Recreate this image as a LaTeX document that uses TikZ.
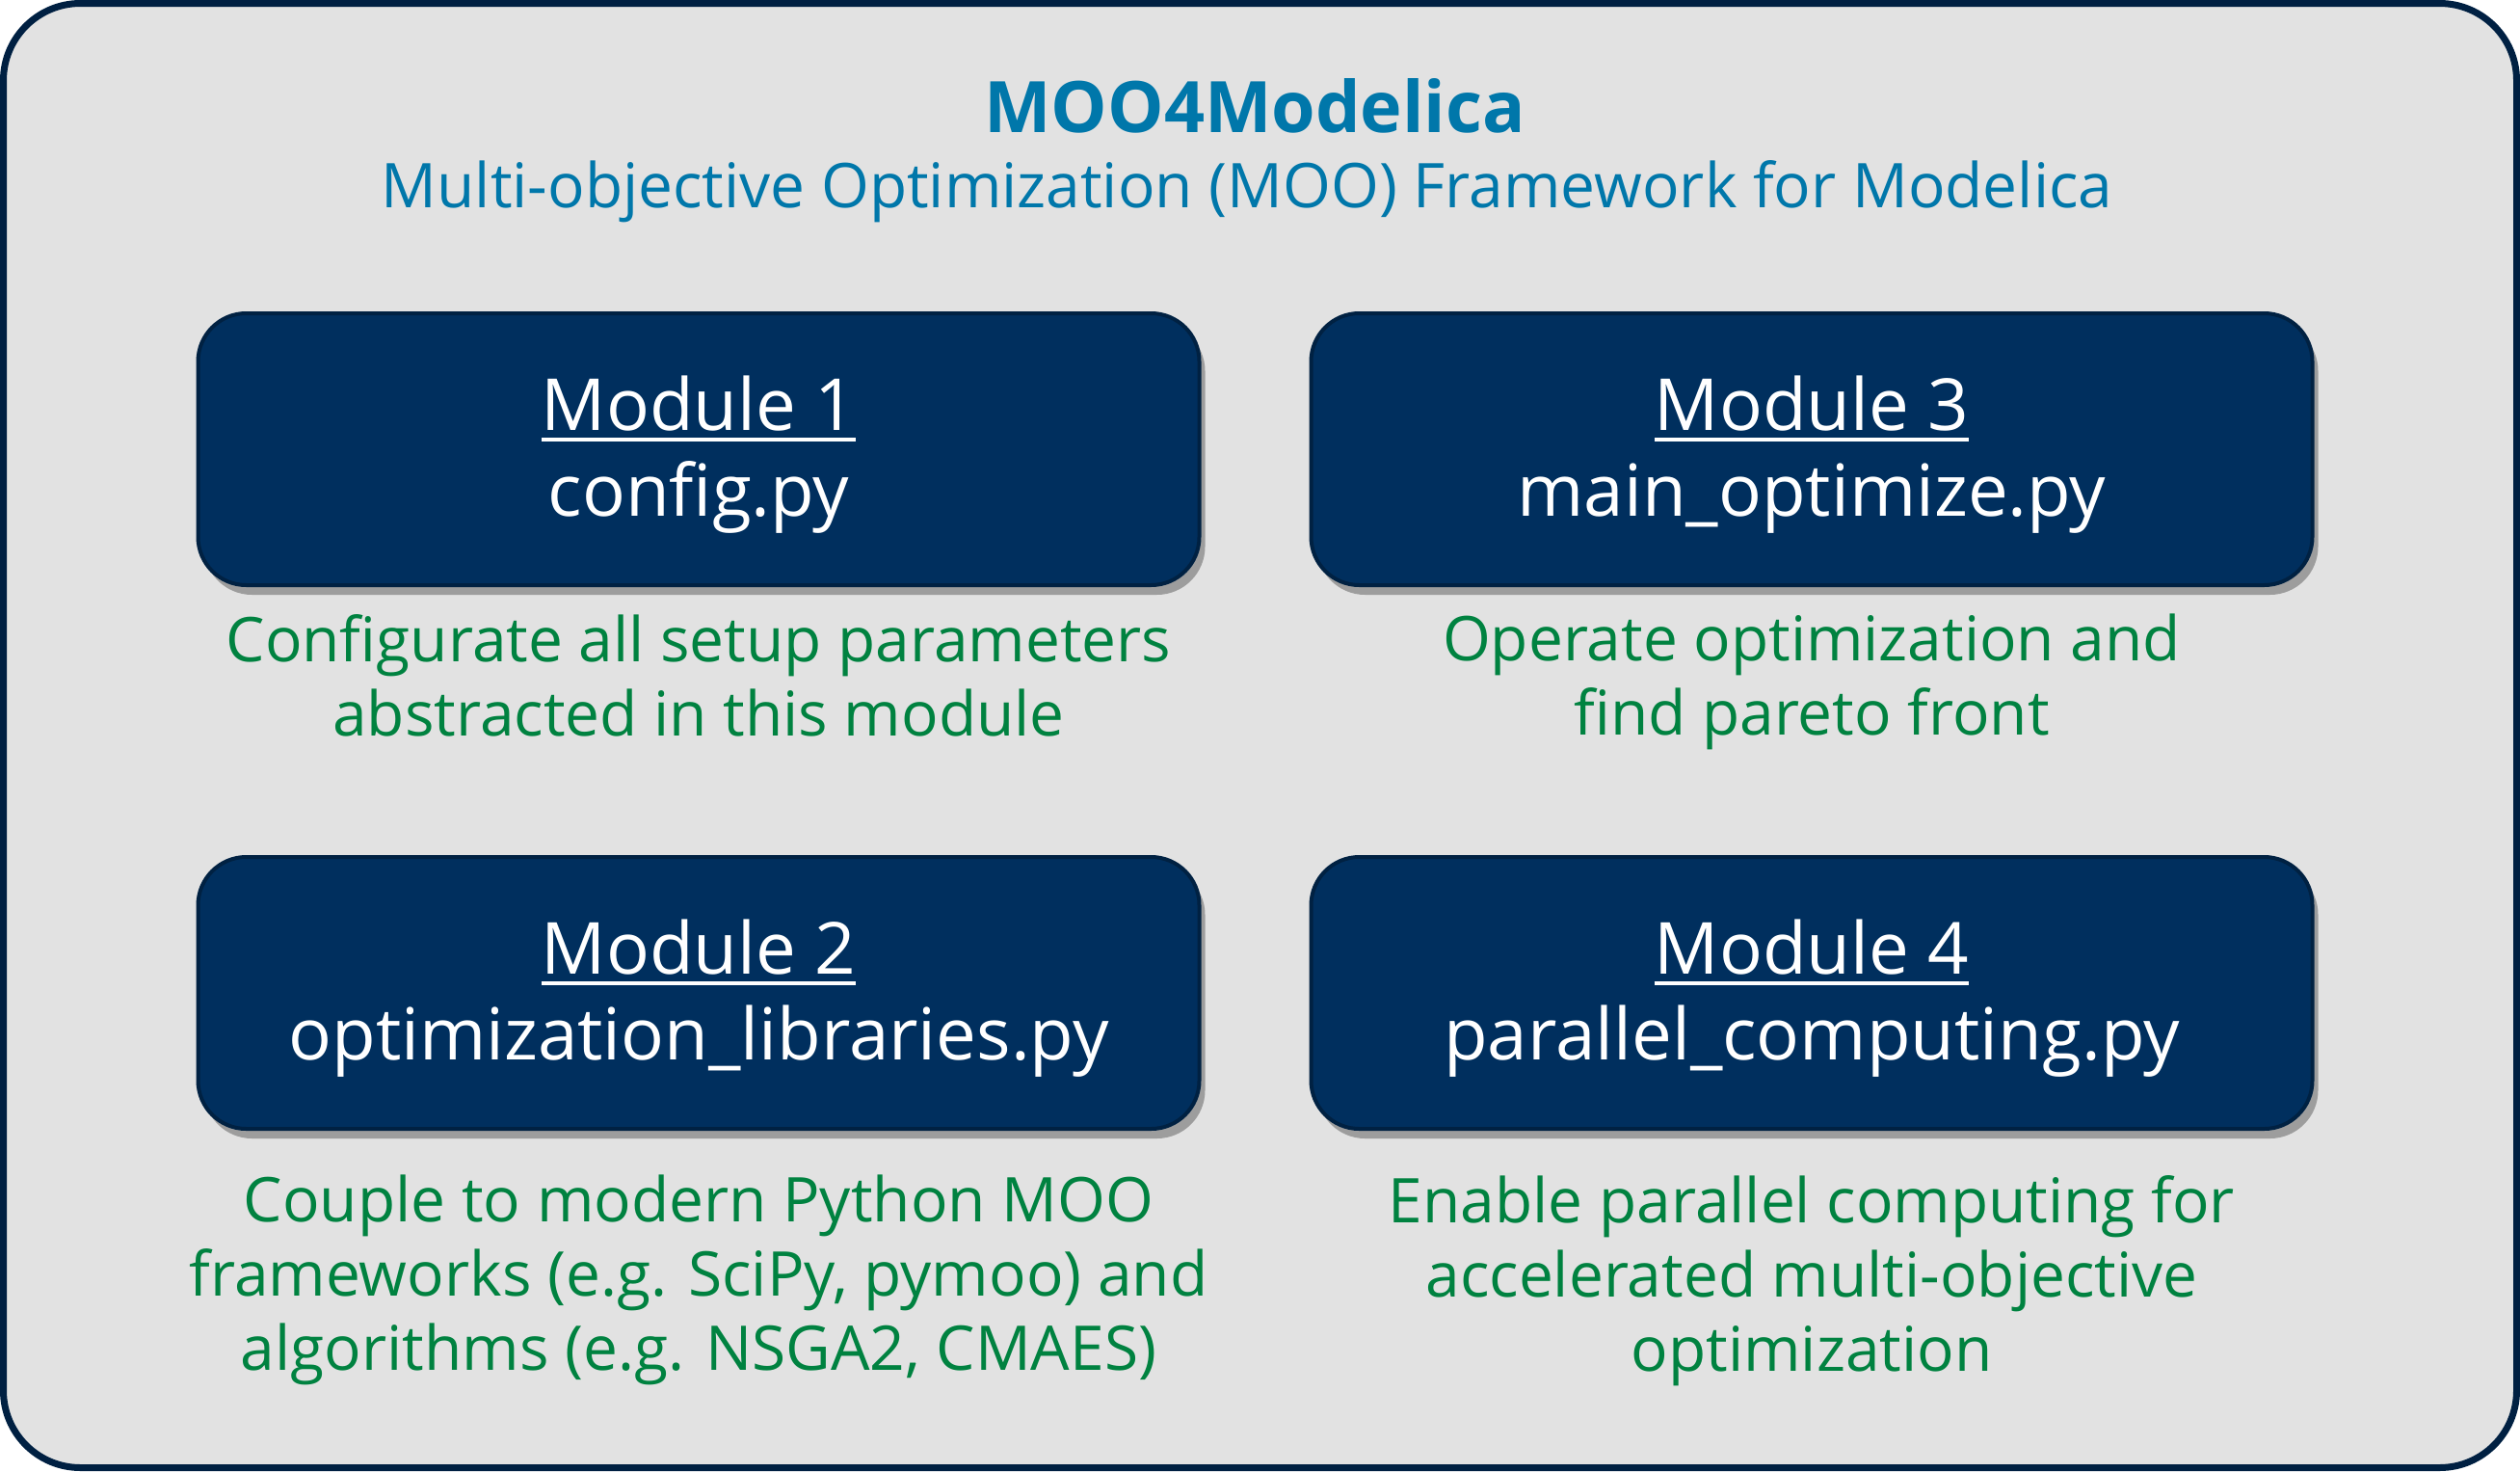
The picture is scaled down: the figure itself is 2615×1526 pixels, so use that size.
\documentclass[tikz,border=0pt]{standalone}
\usepackage{fontspec}
\setmainfont{Open Sans}
\usetikzlibrary{shadows}
\definecolor{bgc}{RGB}{226,226,226}
\definecolor{framec}{RGB}{0,32,66}
\definecolor{modfill}{RGB}{0,47,94}
\definecolor{modline}{RGB}{0,33,66}
\definecolor{titlec}{RGB}{0,119,170}
\definecolor{descc}{RGB}{0,130,64}
\newcommand{\modul}[1]{\setbox0=\hbox{#1}\rlap{\rule[-11pt]{\wd0}{4pt}}\box0}
\begin{document}
\begin{tikzpicture}[x=1pt,y=-1pt,
  frame/.style={draw=framec, line width=7pt, fill=bgc, rounded corners=80pt,
    minimum width=2608pt, minimum height=1519pt, inner sep=0pt},
  modbox/.style={draw=modline, line width=4pt, fill=modfill, rounded corners=50pt,
    minimum width=1039pt, minimum height=282pt, inner sep=0pt,
    drop shadow={shadow xshift=6pt, shadow yshift=-10pt, opacity=0.3, fill=black}},
  modtext/.style={text=white, align=center, inner sep=0pt,
    font=\fontsize{74.5pt}{89pt}\selectfont},
  desc/.style={text=descc, align=center, anchor=north, inner sep=0pt,
    font=\fontsize{64pt}{77pt}\selectfont},
  titlest/.style={text=titlec, anchor=base, inner sep=0pt,
    font=\fontsize{73.7pt}{90pt}\selectfont\bfseries},
  subst/.style={text=titlec, anchor=base, inner sep=0pt,
    font=\fontsize{64pt}{72pt}\selectfont}]
\useasboundingbox (0,0) rectangle (2615,1526);
\node[frame] (frame) at (1307.5,763) {};
\node[titlest] (title) at (1302,137) {MOO4Modelica};
\node[subst] (subtitle) at (1294,215) {Multi-objective Optimization (MOO) Framework for Modelica};
\node[modbox] (m1) at (725,466) {};
\node[modbox] (m3) at (1880,466) {};
\node[modbox] (m2) at (725,1030) {};
\node[modbox] (m4) at (1880,1030) {};
\node[modtext] (t1) at (725,472) {\modul{Module 1}\\config.py};
\node[modtext] (t3) at (1880,472) {\modul{Module 3}\\main\_optimize.py};
\node[modtext] (t2) at (725,1036) {\modul{Module 2}\\optimization\_libraries.py};
\node[modtext] (t4) at (1880,1036) {\modul{Module 4}\\parallel\_computing.py};
\node[desc] (d1) at (725,637) {Configurate all setup parameters\\abstracted in this module};
\node[desc] (d3) at (1880,637) {Operate optimization and\\find pareto front};
\node[desc] (d2) at (725,1219) {Couple to modern Python MOO\\frameworks (e.g. SciPy, pymoo) and\\algorithms (e.g. NSGA2, CMAES)};
\node[desc] (d4) at (1880,1219) {Enable parallel computing for\\accelerated multi-objective\\optimization};
\end{tikzpicture}
\end{document}
